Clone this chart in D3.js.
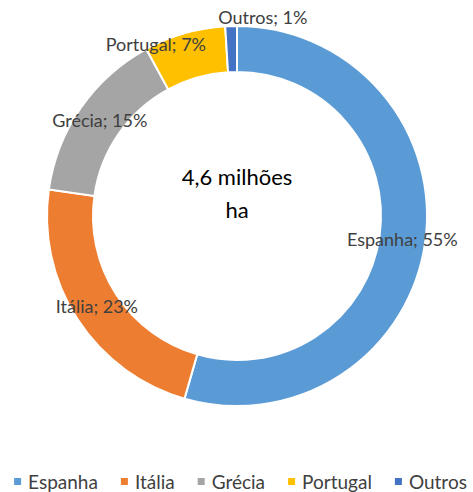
<!DOCTYPE html>
<html>
<head>
<meta charset="utf-8">
<script src="https://cdn.jsdelivr.net/npm/d3@7"></script>
<style>
  body { margin: 0; background: #fff; }
  text { font-family: Lato, "Open Sans", sans-serif; }
</style>
</head>
<body>
<svg id="chart" width="473" height="492"></svg>
<script>
// data
const countries = ["Espanha", "Itália", "Grécia", "Portugal", "Outros"];
const shares = [55, 23, 15, 7, 1];
const colors = ["#5B9BD5", "#ED7D31", "#A5A5A5", "#FFC000", "#4472C4"];
const centerLines = ["4,6 milhões", "ha"];

const donut = function(){

    const render = function(target_id){
        let svg = d3.select('#'+target_id),
            width = +svg.attr("width");

        const cx = 237, cy = 216,
              outerR = 190, innerR = 144;

        let data = countries.map(function(c, i){ return {name: c, value: shares[i]} });

        let pie = d3.pie()
            .sort(null)
            .value(function(d){ return d.value });

        let arc = d3.arc().innerRadius(innerR).outerRadius(outerR);
        let labelArc = d3.arc().innerRadius((innerR+outerR)/2).outerRadius((innerR+outerR)/2);

        let color = d3.scaleOrdinal().domain(countries).range(colors);

        let g = svg.append("g").attr("transform", "translate("+cx+","+cy+")");

        let arcs = pie(data);

        g.selectAll(".slice")
            .data(arcs)
            .enter()
            .append("path")
            .attr("class", "slice")
            .attr("d", arc)
            .attr("fill", function(d){ return color(d.data.name) })
            .attr("stroke", "#fff")
            .attr("stroke-width", 2);

        // excel pushed the two small labels off the ring
        const shift = {"Portugal": [-35, -11], "Outros": [31, -31]};

        g.selectAll(".lbl")
            .data(arcs)
            .enter()
            .append("text")
            .attr("class", "lbl")
            .attr("x", function(d){ return labelArc.centroid(d)[0] + (shift[d.data.name] ? shift[d.data.name][0] : 0) })
            .attr("y", function(d){ return labelArc.centroid(d)[1] + (shift[d.data.name] ? shift[d.data.name][1] : 0) })
            .attr("text-anchor", "middle")
            .attr("dy", "0.35em")
            .attr("fill", "#404040")
            .style("font-size", "18px")
            .text(function(d){ return d.data.name + "; " + d.data.value + "%" });

        g.selectAll(".center")
            .data(centerLines)
            .enter()
            .append("text")
            .attr("class", "center")
            .attr("x", 0)
            .attr("y", function(d, i){ return -39 + i*33 })
            .attr("text-anchor", "middle")
            .attr("dy", "0.35em")
            .attr("fill", "#000")
            .style("font-size", "22px")
            .text(function(d){ return d });

        // legend
        let legend = svg.append("g");
        let items = legend.selectAll(".leg")
            .data(countries)
            .enter()
            .append("g")
            .attr("class", "leg");

        items.append("rect")
            .attr("width", 7).attr("height", 7)
            .attr("y", -4)
            .attr("fill", function(d){ return color(d) });

        items.append("text")
            .attr("x", 14)
            .attr("dy", "0.35em")
            .attr("fill", "#404040")
            .style("font-size", "19px")
            .text(function(d){ return d });

        let x = 0, gap = 23;
        items.each(function(){
            let w = this.getBBox().width;
            d3.select(this).attr("transform", "translate("+x+",0)");
            x += w + gap;
        });
        let total = x - gap;
        legend.attr("transform", "translate("+((width-total)/2+4)+",482)");
    };

    return {
        render: render
    }

}();

donut.render("chart");
</script>
</body>
</html>
